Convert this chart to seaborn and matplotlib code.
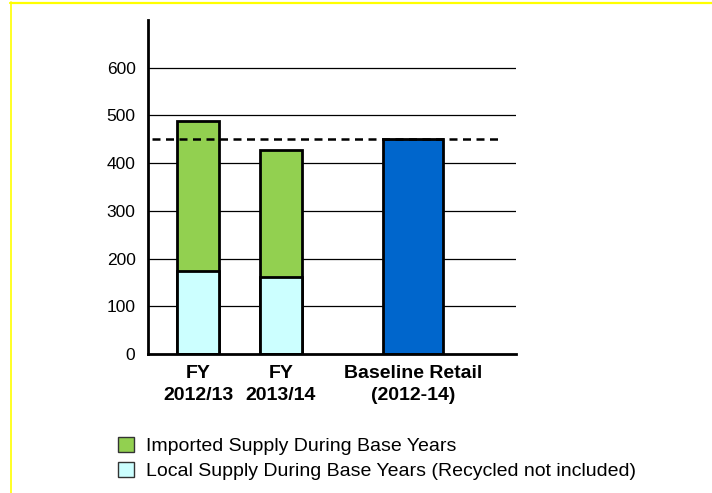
import matplotlib
matplotlib.use("Agg")
import matplotlib.pyplot as plt
from matplotlib.lines import Line2D
from matplotlib.patches import Patch
import numpy as np
import pandas as pd
import seaborn as sns

# Data (acre-feet, thousands)
categories = ["FY\n2012/13", "FY\n2013/14", "Baseline Retail\n(2012-14)"]
local_supply = [173, 161, 0]
imported_supply = [315, 267, 0]
baseline_retail = [0, 0, 450]
baseline_level = 450
y_ticks = [0, 100, 200, 300, 400, 500, 600]

legend_labels = ["Imported Supply During Base Years",
                 "Local Supply During Base Years (Recycled not included)"]

GREEN = "#92D050"
CYAN = "#CCFFFF"
BLUE = "#0066CC"

sns.set_theme(style="white")
plt.rcParams["font.family"] = ["Liberation Sans", "DejaVu Sans"]

fig = plt.figure(figsize=(7.12, 4.93), dpi=100)
ax = fig.add_axes([148 / 712, 1 - 354 / 493, (516 - 148) / 712, (354 - 20) / 493])

# bar centres along a 0..10 axis, with individual widths
centres = [1.36, 3.61, 7.20]
widths = [1.14, 1.14, 1.63]

totals = [l + i for l, i in zip(local_supply, imported_supply)]
df = pd.DataFrame({"pos": centres, "total": totals, "local": local_supply,
                   "baseline": baseline_retail})

layers = [("total", GREEN), ("local", CYAN), ("baseline", BLUE)]
for col, color in layers:
    start = len(ax.patches)
    sns.barplot(data=df, x="pos", y=col, native_scale=True, color=color,
                saturation=1, edgecolor="black", linewidth=2, ax=ax,
                errorbar=None, zorder=3)
    for p, c, w in zip(ax.patches[start:], centres, widths):
        p.set_width(w)
        p.set_x(c - w / 2)

# gridlines
for t in y_ticks[1:]:
    ax.axhline(t, color="black", lw=0.9, zorder=1)

# baseline dashed reference
ax.plot([0.1, 9.55], [baseline_level, baseline_level], color="black",
        lw=1.8, ls=(0, (3.2, 2.2)), zorder=4)

ax.set_xlim(0, 10)
ax.set_ylim(0, 700)
ax.set_yticks(y_ticks)
ax.set_yticklabels([str(t) for t in y_ticks], fontsize=12.5, color="black")
ax.set_xticks(centres)
ax.set_xticklabels(categories, fontsize=14, fontweight="bold", color="black",
                   linespacing=1.35)
ax.tick_params(axis="both", length=0)
ax.tick_params(axis="y", pad=9)
ax.tick_params(axis="x", pad=8)
ax.set_xlabel("")
ax.set_ylabel("")

for side in ["top", "right"]:
    ax.spines[side].set_visible(False)
for side in ["left", "bottom"]:
    ax.spines[side].set_color("black")
    ax.spines[side].set_linewidth(2)
ax.spines["left"].set_zorder(5)
ax.spines["bottom"].set_zorder(5)

# legend
handles = [Patch(facecolor=GREEN, edgecolor="#333333", lw=1),
           Patch(facecolor=CYAN, edgecolor="#333333", lw=1)]
fig.legend(handles, legend_labels, loc="upper left",
           bbox_to_anchor=(118 / 712, 1 - 437 / 493), frameon=False,
           fontsize=14, handlelength=0.8, handleheight=0.8,
           handletextpad=0.65, labelspacing=0.35, borderpad=0,
           borderaxespad=0, labelcolor="black")

# page border
fig.add_artist(Line2D([10 / 712, 1], [1 - 2.5 / 493, 1 - 2.5 / 493],
                      color="#FFFF00", lw=1.6, transform=fig.transFigure))
fig.add_artist(Line2D([10.5 / 712, 10.5 / 712], [0, 1 - 2 / 493],
                      color="#FFFF00", lw=1.2, transform=fig.transFigure))

fig.savefig("out.png", dpi=100)
